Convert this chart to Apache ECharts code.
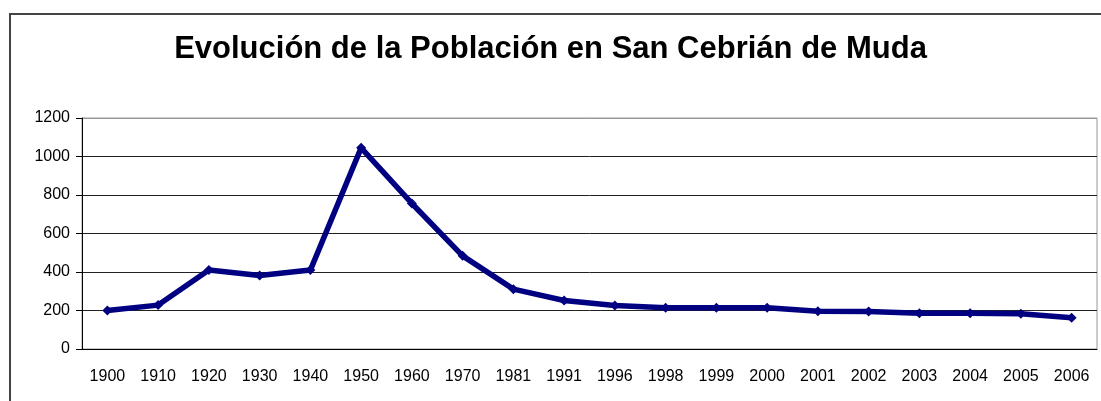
<!DOCTYPE html>
<html>
<head>
<meta charset="utf-8">
<title>Evolución de la Población en San Cebrián de Muda</title>
<script src="https://cdn.jsdelivr.net/npm/echarts@6/dist/echarts.min.js"></script>
<style>
  html, body { margin: 0; padding: 0; background: #fff; }
  #chart { width: 1101px; height: 401px; }
</style>
</head>
<body>
<div id="chart"></div>
<script>
// data
const years = ['1900', '1910', '1920', '1930', '1940', '1950', '1960', '1970', '1981', '1991',
  '1996', '1998', '1999', '2000', '2001', '2002', '2003', '2004', '2005', '2006']
const population = [200, 228, 410, 382, 410, 1045, 756, 484, 311, 252,
  226, 214, 214, 214, 196, 195, 186, 186, 183, 162]
const yTicks = [0, 200, 400, 600, 800, 1000, 1200]

const chart = echarts.init(document.getElementById('chart'))

chart.setOption({
  animation: false,
  backgroundColor: '#fff',
  textStyle: { fontFamily: 'Liberation Sans, Arial, sans-serif' },
  title: {
    text: 'Evolución de la Población en San Cebrián de Muda',
    left: 'center',
    top: 29,
    textStyle: { fontSize: 31, fontWeight: 'bold', color: '#000', fontFamily: 'Liberation Sans, Arial, sans-serif' }
  },
  graphic: [{
    type: 'rect',
    shape: { x: 10, y: 14, width: 1200, height: 500 },
    style: { fill: 'none', stroke: '#444', lineWidth: 2 },
    silent: true
  }],
  grid: {
    left: 82,
    right: 4,
    top: 118,
    bottom: 52,
    show: true,
    borderColor: '#999',
    borderWidth: 1
  },
  xAxis: {
    type: 'category',
    data: years,
    boundaryGap: true,
    axisLine: { lineStyle: { color: '#000', width: 1 } },
    axisTick: { length: 5, lineStyle: { color: '#000' } },
    axisLabel: { color: '#000', fontSize: 16, margin: 20, interval: 0 }
  },
  yAxis: {
    type: 'value',
    min: yTicks[0],
    max: yTicks[yTicks.length - 1],
    interval: 200,
    axisLine: { show: true, lineStyle: { color: '#000', width: 1 } },
    axisTick: { show: true, length: 6, lineStyle: { color: '#000' } },
    axisLabel: { color: '#000', fontSize: 16, margin: 12, formatter: (v) => String(v) },
    splitLine: {
      lineStyle: { color: ['#000', '#222', '#222', '#222', '#222', '#222', '#999'], width: 1 }
    }
  },
  series: [{
    type: 'line',
    data: population,
    symbol: 'diamond',
    symbolSize: 10,
    lineStyle: { color: '#000080', width: 5.5 },
    itemStyle: { color: '#000080' }
  }]
})
</script>
</body>
</html>
